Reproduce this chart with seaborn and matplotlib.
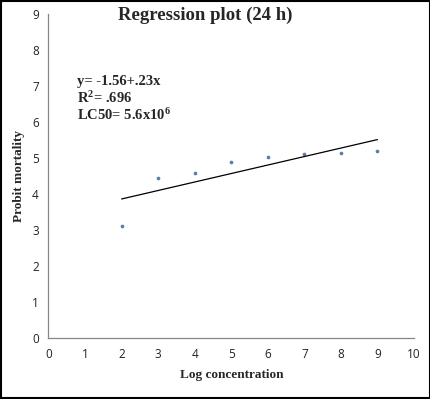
import numpy as np
import pandas as pd
import matplotlib
matplotlib.use("Agg")
import matplotlib.pyplot as plt
import seaborn as sns

# Data
log_conc = [2, 3, 4, 5, 6, 7, 8, 9]
probit = [3.11, 4.46, 4.58, 4.90, 5.04, 5.11, 5.14, 5.21]
x_ticks = list(range(0, 11))
y_ticks = list(range(0, 10))

df = pd.DataFrame({"log_conc": log_conc, "probit": probit})

sns.set_style("white")
plt.rcParams["font.family"] = ["Open Sans", "DejaVu Sans"]
plt.rcParams["mathtext.fontset"] = "custom"
plt.rcParams["mathtext.rm"] = "Liberation Serif:bold"
plt.rcParams["mathtext.it"] = "Liberation Serif:bold"
plt.rcParams["mathtext.bf"] = "Liberation Serif:bold"

fig = plt.figure(figsize=(4.31, 3.99), dpi=100)
ax = fig.add_axes([0.1125, 0.1529, 0.8481, 0.8108])

sns.regplot(data=df, x="log_conc", y="probit", ax=ax, ci=None,
            scatter_kws={"s": 7, "color": "#2E5C9A", "linewidths": 0},
            line_kws={"color": "black", "linewidth": 0.9})

ax.set_xlim(0, 10)
ax.set_ylim(0, 9)
ax.set_xticks(x_ticks)
ax.set_yticks(y_ticks)
ax.tick_params(axis="both", direction="out", length=4, width=0.8,
               color="#868686", labelsize=8.5, pad=3, labelcolor="#222222")
for side in ["top", "right"]:
    ax.spines[side].set_visible(False)
for side in ["left", "bottom"]:
    ax.spines[side].set_color("#868686")
    ax.spines[side].set_linewidth(0.9)

serif = ["Liberation Serif", "DejaVu Serif"]
ax.set_xlabel("Log concentration", fontfamily=serif, fontweight="bold",
              fontsize=9.5, labelpad=6)
ax.set_ylabel("Probit mortality", fontfamily=serif, fontweight="bold",
              fontsize=9.5, labelpad=5)

fig.text(205 / 431, 1 - 15 / 399, "Regression plot (24 h)", fontfamily=serif,
         fontweight="bold", fontsize=13.5, ha="center", va="center")

eq_lines = ["y= -1.56+.23x", "R$^{2}$= .696", "LC50= 5.6x10$^{6}$"]
for i, line in enumerate(eq_lines):
    fig.text(77 / 431, 1 - (81 + 17 * i) / 399, line, fontfamily=serif,
             fontweight="bold", fontsize=10.5, ha="left", va="center")

# black frame around the whole picture
fig.patches.append(plt.Rectangle((0.002, 0.002), 0.996, 0.996, transform=fig.transFigure,
                                 fill=False, edgecolor="black", linewidth=1.5))

fig.savefig("out.png", dpi=100)
